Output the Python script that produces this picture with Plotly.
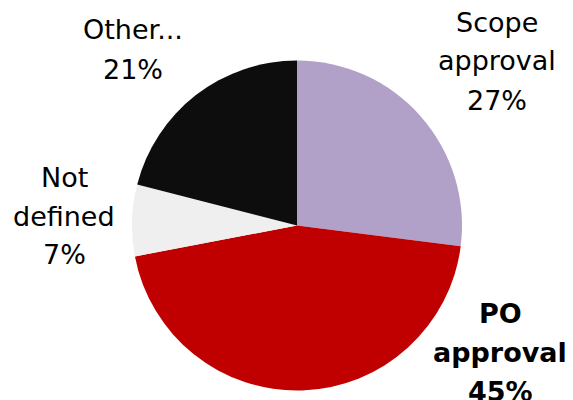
import plotly.graph_objects as go

# Slice data, clockwise from 12 o'clock
categories = ["Scope approval", "PO approval", "Not defined", "Other..."]
shares = [27, 45, 7, 21]
colors = ["#B1A0C7", "#C00000", "#EFEFEF", "#0D0D0D"]

W, H = 573, 400
cx, cy, r = 297, 225.5, 165

fig = go.Figure(go.Pie(
    labels=categories,
    values=shares,
    sort=False,
    direction="clockwise",
    rotation=0,
    marker=dict(colors=colors, line=dict(width=0)),
    textinfo="none",
    hoverinfo="label+percent",
    showlegend=False,
    domain=dict(x=[(cx - r) / W, (cx + r) / W],
                y=[(H - cy - r) / H, (H - cy + r) / H]),
))

# Outside labels: (label lines, centre x, first-line y, bold)
label_layout = {
    "Scope approval": (["Scope", "approval"], 497, 22, False),
    "PO approval": (["PO", "approval"], 500, 313, True),
    "Not defined": (["Not", "defined"], 64, 177, False),
    "Other...": (["Other..."], 133, 30, False),
}
line_gap = 39

annotations = []
for name, val in zip(categories, shares):
    lines, x, y0, bold = label_layout[name]
    lines = lines + [f"{val}%"]
    for i, txt in enumerate(lines):
        t = f"<b>{txt}</b>" if bold else txt
        annotations.append(dict(
            x=x / W, y=1 - (y0 + i * line_gap) / H,
            xref="paper", yref="paper",
            text=t, showarrow=False,
            xanchor="center", yanchor="middle",
            font=dict(family="DejaVu Sans", size=27, color="#000000"),
        ))

fig.update_layout(
    width=W, height=H,
    margin=dict(l=0, r=0, t=0, b=0),
    paper_bgcolor="white",
    plot_bgcolor="white",
    annotations=annotations,
)

fig.write_html("out.html")
